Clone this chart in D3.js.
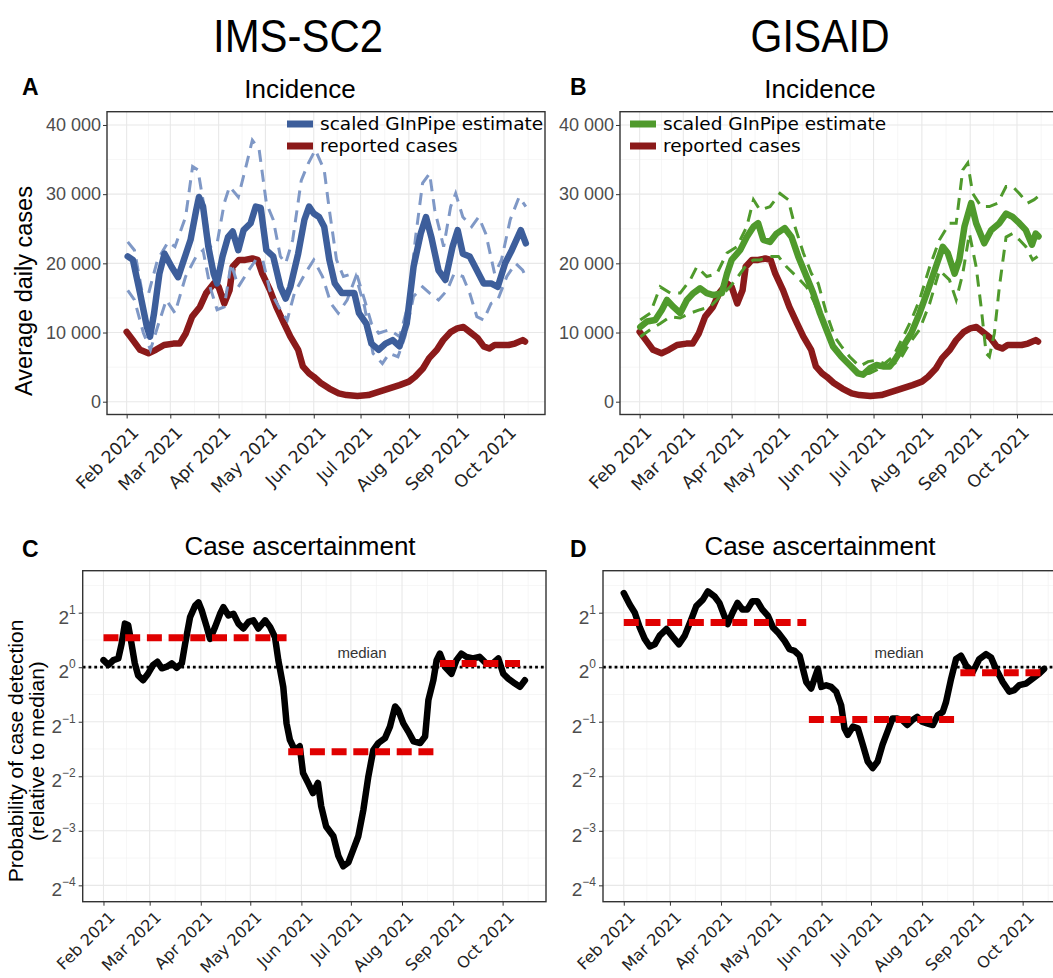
<!DOCTYPE html>
<html>
<head>
<meta charset="utf-8">
<style>
  body { margin: 0; background: #fff; }
  svg { display: block; }
  text { font-family: "Liberation Sans", Arial, sans-serif; }
</style>
</head>
<body>
<svg id="fig" width="1053" height="978"></svg>
<script src="https://cdn.jsdelivr.net/npm/d3@7"></script>
<script>

// all series: [days since 1 Feb 2021, value]
var startDay = new Date(2021, 1, 1);

var reportedCases = [[0,10100],[4,8900],[8.6,7500],[14,7000],[18.7,7500],[24,8200],[30,8400],[34,8400],
  [38,9900],[42,12300],[47,13700],[51,15700],[56,17100],[59,16600],[62.6,14200],[66,16100],[68,19500],
  [72,20500],[76,20500],[80.6,20700],[84,20500],[87,18500],[92,16100],[96,13700],[101,11300],[105,9400],
  [110,7500],[113,5100],[117,4100],[120,3600],[124.5,2700],[130,1900],[136,1200],[141,960],[148,820],
  [155,960],[162,1450],[168,1900],[175,2400],[181,2900],[185,3600],[190,4800],[194,6300],[199,7500],
  [203,8900],[208,10100],[212,10600],[216,10800],[220,10100],[225,9200],[229,8000],[232.6,7700],
  [236,8200],[240,8200],[245,8200],[249,8400],[254,8900],[255.5,8700]];

var imsEstimate = [[0.7,21000],[4,20500],[8.6,15700],[13,10800],[15,9400],[17.6,12800],[21,18500],
  [24.3,21400],[28.8,19500],[33,18000],[36.7,20500],[41,23400],[44.6,27700],[46.4,29600],[49,28200],
  [52.4,22400],[55.8,18500],[58,17100],[61.5,21000],[65,23800],[68,24600],[71.6,21900],[75,24800],
  [79.5,25800],[82.8,28200],[86,28000],[89.6,21900],[94,21000],[98.6,16600],[102,14900],[105,16600],
  [110,21400],[114,26300],[117,28200],[120,27200],[123.4,26700],[126.7,25300],[130,20500],[133.5,17100],
  [138,15700],[142.5,15700],[146,15700],[149,12800],[153.7,11300],[157,8400],[161.6,7500],[166,8400],
  [170.6,8900],[175,8000],[179.6,11300],[184,19500],[188.6,24300],[192,26700],[195.4,23800],[200,19000],
  [204.4,17600],[209,22400],[212.3,24800],[215.6,21400],[220,21000],[224.6,19000],[229,17100],
  [233.7,17100],[238,16600],[242.7,20000],[247,21900],[252.8,24800],[256,22900]];

var imsUpper = [[0.7,23100],[5,21900],[9.7,16100],[14,15600],[19.8,20500],[26.6,23100],[31,22400],
  [37.8,26700],[42.3,34000],[45.7,33500],[49,29100],[53.5,22400],[58,22900],[62.6,28700],[66,31100],
  [71.6,29600],[76,33500],[80.6,37800],[85,36400],[89.6,28700],[94,26300],[98.6,21000],[102,20000],
  [106.5,23400],[112,32000],[116.6,34500],[121,36400],[126.7,33500],[130,27700],[134.6,20500],
  [139,18100],[144.7,18500],[148,18100],[152.6,14700],[157,11300],[161.6,9900],[168.4,10400],
  [175,9400],[180.8,14200],[185.3,23800],[189.8,31600],[194.3,33000],[197.6,27700],[203.3,22400],
  [207.8,28200],[211,30100],[215.6,26700],[221.3,25300],[225.8,26700],[230.3,24300],[236,18500],
  [240.4,20500],[246,26300],[251.7,29600],[256,28200]];

var imsLower = [[0.7,16100],[5,14700],[10.8,9900],[15.3,7500],[19.8,10800],[25.4,14700],[31,12800],
  [37.8,18100],[44.6,21000],[49,21900],[53.5,16600],[58,13300],[62.6,13700],[67,20000],[71.6,16600],
  [78.3,19000],[82.8,20500],[87.3,20500],[91.8,16100],[98.6,13300],[103,11800],[107.6,15700],
  [114.4,18500],[120,20500],[125.6,18100],[131,14200],[135.7,12800],[141.4,14700],[147,18100],
  [152.6,13700],[158,7000],[164,5500],[168.4,7000],[174,6500],[178.5,9400],[184,15200],[189.8,16600],
  [194.3,15700],[200,14700],[205.5,16100],[210,18500],[215.6,18100],[220,15700],[224.6,12300],
  [229,11800],[233.7,14200],[238,14700],[243.8,18100],[249.4,20000],[254,19000],[256,18100]];

var gisaidEstimate = [[0.4,10800],[4.7,11600],[10,11800],[14.3,13300],[17.5,14700],[21.7,13700],
  [26,12800],[30.3,14700],[34.5,15700],[38.8,16400],[43,15700],[47.3,15400],[52.7,15700],[56,18500],
  [59,20500],[64.4,21900],[68.7,23800],[73,25300],[76,25800],[79.3,23400],[83.6,23100],[87.8,24300],
  [93,25100],[97.4,23800],[101.7,21000],[107,18100],[111.3,15700],[115.6,12800],[119.8,10400],
  [124,8000],[129.4,6500],[134.7,5300],[140,4100],[143.3,3900],[147.5,4800],[151.8,5300],[156,5100],
  [160.3,5100],[163.5,6000],[169,8000],[174.2,9900],[179.5,12800],[184.8,16100],[190,19500],
  [194.4,22400],[197.6,21500],[202,18500],[205,20500],[208.3,25300],[212.6,28700],[215.8,25800],
  [221,22900],[225.4,24800],[230.7,25800],[235,27200],[239.2,26700],[243.5,25800],[247.7,24800],
  [251.6,22700],[254,24300],[255.8,23900]];

var gisaidUpper = [[0.4,11800],[6.8,12800],[13.2,16600],[19.6,15700],[26,15700],[32.4,17600],
  [36.7,19500],[43,18100],[49.5,18500],[56,21500],[62.3,22400],[68.7,25300],[73,29200],[77.2,27700],
  [83.6,28200],[90,30100],[95.3,29200],[99.6,25300],[105,21500],[110.2,18500],[114.5,17100],
  [119.8,12800],[125,9400],[129.4,8000],[134.7,6500],[141,5100],[146.5,5800],[151.8,6000],[157,5500],
  [162.5,6500],[169,9400],[174.2,11800],[179.5,14700],[186,19500],[192.3,23400],[198.7,25800],
  [203,25800],[207.2,33500],[210.4,34500],[213.6,30100],[219,28200],[224.3,28200],[229.6,28700],
  [235,31100],[239.2,31100],[243.5,30100],[248.8,28700],[253,29200],[255.2,29600]];

var gisaidLower = [[0.4,9400],[6.8,10400],[13.2,11300],[19.6,12300],[26,12100],[32.4,12800],
  [38.8,13300],[45.2,13700],[51.6,15200],[58,16600],[64.4,18500],[68.7,19800],[73,20500],[77.2,20500],
  [83.6,21000],[89,21000],[94.2,19500],[100.6,18100],[107,16600],[111.3,14700],[117.7,11300],
  [124,8400],[130.5,6500],[137,4600],[142.2,3900],[147.5,4100],[154,4800],[160.3,5100],[166.7,6000],
  [173,8400],[179.5,10400],[186,14200],[192.3,19000],[198.7,17600],[203,14700],[207.2,18500],
  [211.5,24300],[215.8,19500],[219,13700],[222.2,7000],[224.3,6500],[227.5,9900],[230.7,16600],
  [235,23800],[239.2,24300],[243.5,23400],[247.7,22400],[252,20500],[255.2,21000]];

// case ascertainment, log2 of probability relative to the median
var imsAscertainment = [[0,0.13],[3,0.04],[6,0.13],[9,0.16],[11,0.43],[13,0.8],[15,0.77],[17,0.43],
  [19,0.07],[21,-0.15],[24,-0.24],[27,-0.12],[30,0.04],[32.7,0.1],[35.4,-0.02],[38.4,0.01],[41.4,0.07],
  [44.4,-0.01],[47.5,0.07],[49.5,0.43],[52.5,0.92],[55.6,1.13],[57.6,1.19],[59.6,1.04],[62.6,0.74],
  [64.6,0.52],[67.7,0.74],[70.7,0.98],[72.7,1.1],[75.8,0.95],[78.8,0.98],[81.8,0.8],[84.8,0.71],
  [87.9,0.83],[90.9,0.86],[93.9,0.71],[98,0.86],[101,0.74],[104,0.55],[106,0.13],[109,-0.36],
  [111,-1.03],[113,-1.33],[116,-1.52],[119,-1.45],[121,-1.94],[124,-2.12],[127,-2.31],[130,-2.12],
  [132,-2.55],[135,-2.92],[139.4,-3.1],[142.4,-3.46],[145.4,-3.65],[148.5,-3.58],[151.5,-3.34],
  [154.5,-3.1],[157.6,-2.61],[160.6,-2.0],[163.6,-1.52],[166.7,-1.39],[170.7,-1.3],[173.7,-1.09],
  [176.8,-0.72],[178.8,-0.79],[181.8,-1.03],[184.8,-1.18],[188,-1.36],[192,-1.39],[195,-1.27],
  [197,-0.6],[200,-0.24],[202,0.13],[204,0.25],[207,0.01],[211,-0.12],[214,0.13],[217,0.25],
  [220,0.19],[224,0.16],[228,0.19],[232,0.07],[236,0.07],[239.4,0.16],[242.4,-0.12],[245.4,-0.21],
  [249.5,-0.3],[252.5,-0.36],[255.5,-0.24]];

var gisaidAscertainment = [[0,1.36],[3.6,1.15],[6.7,1.0],[9.7,0.73],[12.7,0.52],[15.8,0.38],
  [18.8,0.42],[21.8,0.58],[25.9,0.7],[29.9,0.55],[33.5,0.42],[37,0.58],[41,0.88],[44,1.12],[48,1.24],
  [51,1.39],[55,1.3],[58,1.18],[61,0.94],[63,0.79],[66,1.0],[69,1.18],[72,1.06],[75,1.06],[78,1.21],
  [81,1.21],[84,1.06],[87.5,0.94],[90.5,0.73],[93.5,0.64],[97.6,0.48],[100.6,0.33],[103.6,0.3],
  [106.7,0.21],[108.7,-0.03],[110.7,-0.27],[113.7,-0.39],[115.7,-0.21],[117.8,-0.03],[119.8,-0.36],
  [122.8,-0.33],[125.8,-0.36],[128.9,-0.45],[131.9,-0.7],[133.9,-1.12],[135.9,-1.24],[139,-1.09],
  [142,-1.12],[145,-1.42],[148,-1.73],[151,-1.85],[154,-1.73],[157,-1.42],[160,-1.18],[163,-0.94],
  [166,-0.94],[169,-0.97],[172,-1.06],[175,-0.97],[178,-0.91],[181,-1.0],[184,-1.03],[187.5,-1.06],
  [190.5,-0.88],[193.5,-0.82],[195.5,-0.64],[198.6,-0.21],[201.6,0.15],[204.6,0.21],[207.7,0.03],
  [211.7,-0.09],[215.7,0.15],[219.8,0.24],[222.8,0.18],[225.8,-0.03],[229.9,-0.27],[233.9,-0.45],
  [236.9,-0.42],[240,-0.33],[244,-0.3],[248,-0.21],[252,-0.12],[255,-0.03]];

// period means: [from day, to day, log2 value]
var imsPeriods = [[0,111,0.54],[112,202,-1.55],[204,253.5,0.07]];
var gisaidPeriods = [[0,110.7,0.82],[112.3,202.6,-0.96],[204.2,254,-0.1]];

var incidenceTicks = [0,10000,20000,30000,40000];
var incidenceMinor = [5000,15000,25000,35000];
var ascertainmentTicks = [-4,-3,-2,-1,0,1];
var ascertainmentMinor = [-3.5,-2.5,-1.5,-0.5,0.5,1.5];
var legendLabels = ["scaled GInPipe estimate", "reported cases"];

var svg = d3.select("#fig");

function toDate(d) { return new Date(startDay.getTime() + d * 864e5); }

var xDomain = [toDate(-12.6), toDate(268.3)];
var monthTicks = d3.timeMonth.range(toDate(0), toDate(250));
var allMonths = d3.timeMonth.range(toDate(-40), toDate(300));
var monthMinor = d3.pairs(allMonths).map(function(p) {
  return new Date((p[0].getTime() + p[1].getTime()) / 2);
}).filter(function(d) { return d > xDomain[0] && d < xDomain[1]; });

function panel(p, yDomain, yTicks, yMinor) {
  var x = d3.scaleTime().domain(xDomain).range([p.left, p.right]);
  var y = d3.scaleLinear().domain(yDomain).range([p.bottom, p.top]);

  svg.append("clipPath").attr("id", "clip" + p.letter)
    .append("rect").attr("x", p.left).attr("y", p.top)
    .attr("width", p.right - p.left).attr("height", p.bottom - p.top);

  var g = svg.append("g");

  // grid
  g.selectAll(".vminor").data(monthMinor).enter().append("line")
    .attr("x1", x).attr("x2", x).attr("y1", p.top).attr("y2", p.bottom)
    .attr("stroke", "#f2f2f2").attr("stroke-width", 0.7);
  g.selectAll(".hminor").data(yMinor.filter(function(v) { return v > yDomain[0] && v < yDomain[1]; }))
    .enter().append("line")
    .attr("x1", p.left).attr("x2", p.right).attr("y1", y).attr("y2", y)
    .attr("stroke", "#f2f2f2").attr("stroke-width", 0.7);
  g.selectAll(".vmajor").data(monthTicks).enter().append("line")
    .attr("x1", x).attr("x2", x).attr("y1", p.top).attr("y2", p.bottom)
    .attr("stroke", "#e8e8e8").attr("stroke-width", 1.1);
  g.selectAll(".hmajor").data(yTicks).enter().append("line")
    .attr("x1", p.left).attr("x2", p.right).attr("y1", y).attr("y2", y)
    .attr("stroke", "#e8e8e8").attr("stroke-width", 1.1);

  // x axis
  var xa = g.append("g").attr("transform", "translate(0," + p.bottom + ")")
    .call(d3.axisBottom(x).tickValues(monthTicks).tickFormat(d3.timeFormat("%b %Y")).tickSize(4));
  xa.select(".domain").remove();
  xa.selectAll("line").attr("stroke", "#333");
  xa.selectAll("text")
    .attr("x", 0).attr("y", 0).attr("dy", "0.71em")
    .attr("transform", "translate(4," + p.labelDy + ") rotate(-45)")
    .attr("text-anchor", "end")
    .style("font-family", "'DejaVu Sans', sans-serif")
    .style("font-size", p.tickSize + "px").attr("fill", "#222");

  // y axis
  var ya = g.append("g").attr("transform", "translate(" + p.left + ",0)")
    .call(d3.axisLeft(y).tickValues(yTicks).tickSize(4).tickFormat(p.yFormat || ""));
  ya.select(".domain").remove();
  ya.selectAll("line").attr("stroke", "#333");
  ya.selectAll("text").attr("x", -6).style("font-size", "18px").attr("fill", "#4d4d4d");

  var plot = g.append("g").attr("clip-path", "url(#clip" + p.letter + ")");

  return { x: x, y: y, g: g, ya: ya, plot: plot };
}

function frame(g, p) {
  g.append("rect").attr("x", p.left).attr("y", p.top)
    .attr("width", p.right - p.left).attr("height", p.bottom - p.top)
    .attr("fill", "none").attr("stroke", "#333").attr("stroke-width", 1.4);
}

function seriesLine(x, y) {
  return d3.line().x(function(d) { return x(toDate(d[0])); }).y(function(d) { return y(d[1]); });
}

function spaced(v) { return d3.format(",")(v).replace(/,/g, " "); }

function incidence(p) {
  var c = panel(p, [-1850, 41920], incidenceTicks, incidenceMinor);
  var line = seriesLine(c.x, c.y);

  c.plot.append("path").datum(reportedCases).attr("d", line)
    .attr("fill", "none").attr("stroke", "#8b1a1a").attr("stroke-width", 6.5)
    .attr("stroke-linejoin", "round").attr("stroke-linecap", "round");
  [p.upper, p.lower].forEach(function(s) {
    c.plot.append("path").datum(s).attr("d", line)
      .attr("fill", "none").attr("stroke", p.ciColor).attr("stroke-width", 3)
      .attr("stroke-dasharray", "12,8");
  });
  c.plot.append("path").datum(p.estimate).attr("d", line)
    .attr("fill", "none").attr("stroke", p.color).attr("stroke-width", 6.5)
    .attr("stroke-linejoin", "round").attr("stroke-linecap", "round");

  frame(c.g, p);

  // legend
  var lg = c.g.append("g");
  [p.color, "#8b1a1a"].forEach(function(col, i) {
    lg.append("line").attr("x1", p.legendX).attr("x2", p.legendX + 26)
      .attr("y1", 124 + i * 22).attr("y2", 124 + i * 22)
      .attr("stroke", col).attr("stroke-width", 7);
    lg.append("text").attr("x", p.legendX + 33).attr("y", 124 + i * 22).attr("dy", "0.35em")
      .style("font-family", "'DejaVu Sans', sans-serif").style("font-size", "18.5px")
      .text(legendLabels[i]);
  });
}

function ascertainment(p) {
  var c = panel(p, [-4.3, 1.77], ascertainmentTicks, ascertainmentMinor);
  var line = seriesLine(c.x, c.y);

  c.ya.selectAll(".tick").each(function(d) {
    var t = d3.select(this).select("text").text(null)
      .attr("x", -7).attr("y", 10.5).attr("dy", null)
      .attr("text-anchor", "end").style("font-size", "19px");
    t.append("tspan").text("2");
    t.append("tspan").attr("dy", -10).style("font-size", "12px")
      .text(d < 0 ? "\u2212" + (-d) : String(d));
  });

  c.plot.append("line").attr("x1", p.left).attr("x2", p.right)
    .attr("y1", c.y(0)).attr("y2", c.y(0))
    .attr("stroke", "#000").attr("stroke-width", 2.8).attr("stroke-dasharray", "2.8,3");

  c.plot.append("path").datum(p.series).attr("d", line)
    .attr("fill", "none").attr("stroke", "#000").attr("stroke-width", 6.5)
    .attr("stroke-linejoin", "round").attr("stroke-linecap", "round");

  c.plot.selectAll(".period").data(p.periods).enter().append("line")
    .attr("x1", function(d) { return c.x(toDate(d[0])); })
    .attr("x2", function(d) { return c.x(toDate(d[1])); })
    .attr("y1", function(d) { return c.y(d[2]); })
    .attr("y2", function(d) { return c.y(d[2]); })
    .attr("stroke", "#e00000").attr("stroke-width", 7).attr("stroke-dasharray", "15,6.7");

  c.g.append("text").attr("x", p.medianX).attr("y", c.y(0) - 9)
    .attr("text-anchor", "middle").style("font-size", "15px").attr("fill", "#333")
    .text("median");

  frame(c.g, p);
}

incidence({ letter: "A", left: 107, right: 545, top: 111.7, bottom: 414.5, yFormat: spaced,
  tickSize: 17.3, labelDy: 10.5, estimate: imsEstimate, upper: imsUpper, lower: imsLower,
  color: "#3d5e9b", ciColor: "#7f98c6", legendX: 287 });
incidence({ letter: "B", left: 620, right: 1058, top: 111.7, bottom: 414.5, yFormat: spaced,
  tickSize: 17.3, labelDy: 10.5, estimate: gisaidEstimate, upper: gisaidUpper, lower: gisaidLower,
  color: "#4f9a2c", ciColor: "#4f9a2c", legendX: 630 });
ascertainment({ letter: "C", left: 82.7, right: 546, top: 570.7, bottom: 901.7,
  tickSize: 16, labelDy: 8.5, series: imsAscertainment, periods: imsPeriods, medianX: 362 });
ascertainment({ letter: "D", left: 603, right: 1066, top: 570.7, bottom: 901.7,
  tickSize: 16, labelDy: 8.5, series: gisaidAscertainment, periods: gisaidPeriods, medianX: 899 });

// titles
[["IMS-SC2", 298, 170], ["GISAID", 820, 139]].forEach(function(t) {
  svg.append("text").attr("x", t[1]).attr("y", 52).attr("text-anchor", "middle")
    .attr("textLength", t[2]).attr("lengthAdjust", "spacingAndGlyphs")
    .style("font-size", "47px").text(t[0]);
});
[["A", 22, 95], ["B", 570, 95], ["C", 22, 557], ["D", 570, 557]].forEach(function(t) {
  svg.append("text").attr("x", t[1]).attr("y", t[2])
    .style("font-size", "23px").style("font-weight", "bold").text(t[0]);
});
[["Incidence", 300, 98], ["Incidence", 820, 98],
 ["Case ascertainment", 300, 555], ["Case ascertainment", 820, 555]].forEach(function(t) {
  svg.append("text").attr("x", t[1]).attr("y", t[2]).attr("text-anchor", "middle")
    .style("font-size", "26px").text(t[0]);
});

// axis titles
svg.append("text").attr("transform", "translate(32,291) rotate(-90)")
  .attr("text-anchor", "middle").style("font-size", "23.5px").text("Average daily cases");
svg.append("text").attr("transform", "translate(23,751) rotate(-90)")
  .attr("text-anchor", "middle").style("font-size", "21px").text("Probability of case detection");
svg.append("text").attr("transform", "translate(44,751) rotate(-90)")
  .attr("text-anchor", "middle").style("font-size", "21px").text("(relative to median)");

</script>
</body>
</html>
